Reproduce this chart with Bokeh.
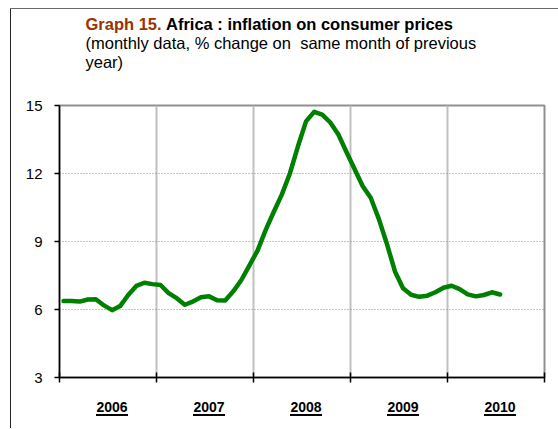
from bokeh.plotting import figure
from bokeh.layouts import column
from bokeh.models import Range1d, FixedTicker
from bokeh.embed import file_html
from bokeh.resources import INLINE
from bokeh.core.properties import value

# ---------------- data ----------------
years = [2006, 2007, 2008, 2009, 2010]
year_labels = ["2006", "2007", "2008", "2009", "2010"]
y_ticks = [3, 6, 9, 12, 15]

infl_2006 = [6.37, 6.37, 6.35, 6.44, 6.45, 6.18, 5.97, 6.15, 6.64, 7.04, 7.18, 7.12]
infl_2007 = [7.08, 6.72, 6.50, 6.21, 6.35, 6.54, 6.58, 6.41, 6.40, 6.80, 7.30, 7.95]
infl_2008 = [8.60, 9.50, 10.30, 11.07, 12.00, 13.20, 14.30, 14.72, 14.60, 14.25, 13.72, 12.95]
infl_2009 = [12.20, 11.45, 10.93, 10.00, 8.90, 7.68, 6.94, 6.65, 6.56, 6.61, 6.76, 6.96]
infl_2010 = [7.05, 6.90, 6.67, 6.58, 6.64, 6.76, 6.66]

inflation = infl_2006 + infl_2007 + infl_2008 + infl_2009 + infl_2010
# monthly observations, plotted in the middle of each month
month_x = [years[0] + (m + 0.5) / 12 for m in range(len(inflation))]
year_edges = years + [years[-1] + 1]
year_mid = [y + 0.5 for y in years]

title_parts = ["Graph 15.", "Africa : inflation on consumer prices"]
subtitle_lines = ["(monthly data, % change on\u00a0 same month of previous", "year)"]

# ---------------- layout / style ----------------
FONT = "Liberation Sans"
W = 558
LEFT, RIGHT = 59, 14
FRAME_W = W - LEFT - RIGHT
HEADER_H = 97
TOP, BOTTOM = 8, 10
MAIN_H = TOP + 272 + BOTTOM
STRIP_H = 41
LABEL_SHIFT = 4 / (FRAME_W / len(years))   # year labels sit slightly right of mid-year

# outer box of the exhibit (left and top rules), painted behind transparent borders
LEFT_RULE = "linear-gradient(#262626, #262626) 10px 0px / 1px 100% no-repeat"
HEADER_BG = ("linear-gradient(#6a6a6a, #6a6a6a) 10px 8px / 100% 1px no-repeat, "
             "linear-gradient(#262626, #262626) 10px 8px / 1px 100% no-repeat, white")
BODY_BG = LEFT_RULE + ", white"


def bare(height, x_range, y_range, bg):
    f = figure(width=W, height=height, x_range=x_range, y_range=y_range,
               output_backend="svg", toolbar_location=None,
               x_axis_location=None, y_axis_location=None,
               min_border_left=LEFT, min_border_right=RIGHT,
               min_border_top=0, min_border_bottom=0,
               styles={"background": bg})
    f.grid.visible = False
    f.outline_line_color = None
    f.background_fill_color = None
    f.border_fill_color = None
    return f


# header (title block): x from the plot-frame left edge, y downward from the top
h = bare(HEADER_H, Range1d(0, FRAME_W), Range1d(HEADER_H, 0), HEADER_BG)
title_kw = dict(text_font=value(FONT), text_font_size="16.5px", text_baseline="middle")
h.text(x=[26], y=[23], text=[title_parts[0]], text_font_style="bold",
       text_color="#993300", **title_kw)
h.text(x=[106.5], y=[23], text=[title_parts[1]], text_font_style="bold",
       text_color="black", **title_kw)
h.text(x=[26, 26], y=[42, 61], text=subtitle_lines, text_color="black", **title_kw)

# main chart
p = figure(width=W, height=MAIN_H,
           x_range=Range1d(year_edges[0], year_edges[-1]),
           y_range=Range1d(y_ticks[0], y_ticks[-1]),
           output_backend="svg", toolbar_location=None,
           min_border_left=LEFT, min_border_right=RIGHT,
           min_border_top=TOP, min_border_bottom=BOTTOM,
           styles={"background": BODY_BG})
p.background_fill_color = "white"
p.border_fill_color = None
p.outline_line_color = "#909090"
p.outline_line_width = 2

p.xgrid.ticker = FixedTicker(ticks=year_edges[1:-1])
p.xgrid.grid_line_color = "#c0c0c0"
p.xgrid.grid_line_width = 2
p.ygrid.ticker = FixedTicker(ticks=y_ticks[1:-1])
p.ygrid.grid_line_color = "#8c8c8c"
p.ygrid.grid_line_dash = "1 2"
p.ygrid.grid_line_width = 1

p.xaxis.ticker = FixedTicker(ticks=year_edges)
p.xaxis.major_label_overrides = {y: "" for y in year_edges}
p.xaxis.major_label_text_font_size = "0px"
p.xaxis.major_label_standoff = 0
p.xaxis.major_tick_in = 5
p.xaxis.major_tick_out = 5
p.xaxis.minor_tick_line_color = None
p.xaxis.axis_line_color = "black"
p.xaxis.axis_line_width = 1.5
p.xaxis.major_tick_line_width = 1.5

p.yaxis.ticker = FixedTicker(ticks=y_ticks)
p.yaxis.major_tick_in = 0
p.yaxis.major_tick_out = 5
p.yaxis.minor_tick_line_color = None
p.yaxis.axis_line_color = "black"
p.yaxis.axis_line_width = 1.5
p.yaxis.major_tick_line_width = 1.5
p.yaxis.major_label_text_font = FONT
p.yaxis.major_label_text_font_size = "15px"
p.yaxis.major_label_text_color = "black"
p.yaxis.major_label_standoff = 12

p.line(month_x, inflation, line_color="#008000", line_width=4.5,
       line_join="round", line_cap="round")

# year labels strip (bold, underlined); y downward from the strip top
s = bare(STRIP_H,
         Range1d(year_edges[0] - LABEL_SHIFT, year_edges[-1] - LABEL_SHIFT),
         Range1d(STRIP_H, 0), BODY_BG)
s.text(x=year_mid, y=[19] * len(years), text=year_labels,
       text_font=value(FONT), text_font_style="bold", text_font_size="14px",
       text_align="center", text_baseline="middle", text_color="black")
s.rect(x=year_mid, y=[27.5] * len(years), width=32, height=2,
       width_units="screen", height_units="screen",
       fill_color="black", line_color=None)

layout = column(h, p, s)

open("out.html", "w").write(file_html(layout, INLINE))
